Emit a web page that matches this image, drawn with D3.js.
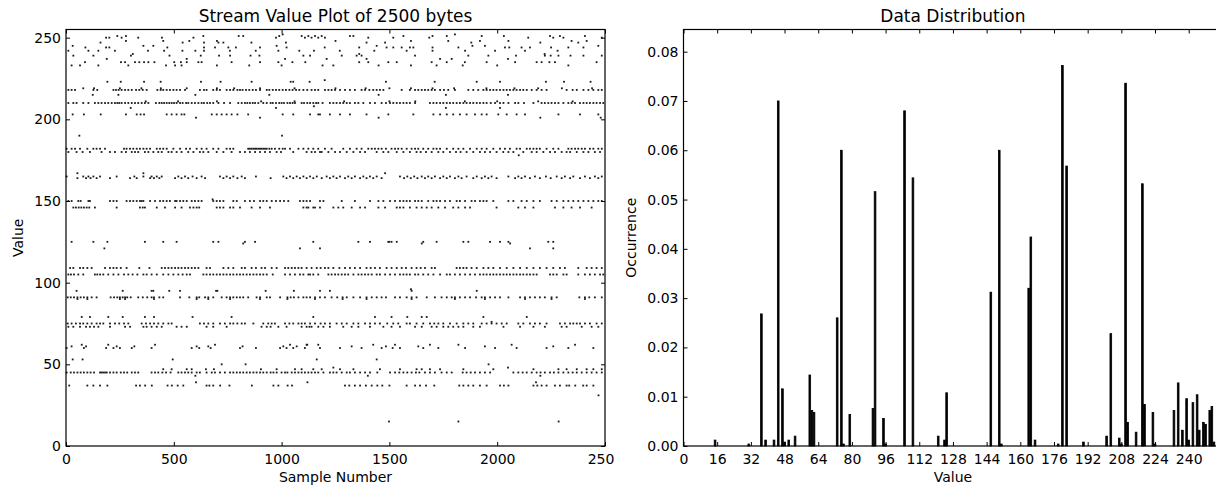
<!DOCTYPE html>
<html>
  <head>
    <style media="screen">
      body { margin: 0; background: #fff; }
      svg { font-family: "DejaVu Sans", sans-serif; }
      .tick text { font-size: 14px; fill: #000; }
    </style>
  </head>
  <body>
    <svg></svg>
    <script src="https://d3js.org/d3.v7.min.js"></script>
    <script type="text/javascript">

      // tick labels
      var sampleTicks = [0, 500, 1000, 1500, 2000, 2500];
      var valueTicks = [0, 50, 100, 150, 200, 250];
      var binTicks = [0, 16, 32, 48, 64, 80, 96, 112, 128, 144, 160, 176, 192, 208, 224, 240];
      var occTicks = [0, 0.01, 0.02, 0.03, 0.04, 0.05, 0.06, 0.07, 0.08];

      // stream plot: byte value of each row and the sample numbers where a dot shows
      var rowValues = [15, 31, 37, 39, 43, 45, 47, 48, 50, 53, 60, 61, 62, 73, 75, 76, 79, 90, 91, 95, 96,
        105, 109, 121, 124, 125, 146, 150, 151, 164, 165, 167, 178, 180, 182, 190, 201, 203, 207, 208,
        210, 211, 215, 218, 219, 223, 224, 233, 235, 237, 239, 240, 242, 244, 245, 247, 248, 250, 251, 252];
      var rowSamples = [
        [1498, 1820, 2285],
        [2470],
        [15, 99, 127, 158, 192, 325, 343, 367, 398, 471, 491, 518, 544, 652, 665, 683, 715, 758, 862, 962, 985, 1028, 1048, 1294, 1314, 1340, 1364, 1391, 1418, 1444, 1467, 1500, 1580, 1619, 1642, 1670, 1708, 1824, 1843, 1866, 1889, 1920, 1951, 2013, 2031, 2052, 2168, 2186, 2206, 2229, 2268, 2291, 2322, 2334, 2362, 2399, 2415, 2446],
        [603, 1120, 2180],
        [600, 1400, 2200],
        [3, 22, 37, 53, 68, 83, 99, 114, 130, 158, 165, 173, 181, 189, 204, 220, 235, 254, 269, 284, 305, 320, 335, 397, 413, 428, 447, 464, 485, 521, 536, 552, 567, 583, 606, 621, 652, 676, 691, 714, 737, 761, 776, 792, 807, 822, 838, 853, 869, 884, 900, 915, 931, 949, 962, 977, 1000, 1016, 1027, 1047, 1062, 1078, 1093, 1108, 1124, 1139, 1155, 1170, 1194, 1224, 1240, 1255, 1279, 1302, 1317, 1340, 1364, 1387, 1410, 1444, 1503, 1526, 1546, 1565, 1583, 1603, 1623, 1639, 1665, 1688, 1711, 1742, 1766, 1789, 1840, 1858, 1877, 1897, 1920, 1943, 1967, 2075, 2098, 2118, 2137, 2160, 2183, 2201, 2221, 2245, 2263, 2284, 2307, 2330, 2350, 2369, 2392, 2415, 2438, 2461, 2485],
        [451, 490, 560, 583, 649, 686, 904, 977, 1062, 1147, 1093, 1186, 1271, 1333, 1456, 1549, 1626, 1650, 1688, 1735, 1843, 1982, 2168, 2284, 2322, 2369, 2415, 2446, 2485],
        [1240, 2050],
        [722, 833, 1960],
        [31, 77, 495, 1163, 1441],
        [3, 83, 186, 220, 250, 305, 397, 583, 618, 671, 807, 881, 993, 1023, 1054, 1108, 1178, 1271, 1371, 1464, 1515, 1549, 1657, 1727, 1851, 1990, 2090, 2229, 2330, 2446],
        [26, 93, 235, 317, 606, 660, 819, 1008, 1070, 1325, 1484, 1634, 1943, 2260],
        [73, 196, 413, 691, 1039, 1116, 1119, 1170, 1425, 1526, 1688, 1820, 2067, 2361],
        [11, 34, 65, 93, 111, 130, 150, 204, 274, 297, 359, 374, 397, 421, 444, 513, 536, 560, 652, 683, 745, 907, 931, 949, 985, 1023, 1093, 1129, 1116, 1139, 1170, 1194, 1224, 1286, 1325, 1356, 1410, 1472, 1510, 1549, 1619, 1650, 1696, 1719, 1750, 1773, 1796, 1820, 1843, 1889, 1920, 2029, 2106, 2168, 2221, 2299, 2322, 2392, 2438, 2469],
        [8, 26, 46, 65, 80, 99, 119, 142, 158, 173, 204, 227, 247, 269, 289, 351, 371, 390, 408, 428, 451, 475, 490, 621, 640, 660, 683, 714, 737, 761, 776, 795, 815, 830, 869, 915, 938, 954, 969, 1016, 1036, 1054, 1078, 1093, 1108, 1132, 1155, 1181, 1201, 1224, 1255, 1279, 1302, 1333, 1356, 1387, 1410, 1433, 1456, 1490, 1518, 1541, 1580, 1595, 1626, 1657, 1688, 1708, 1727, 1750, 1781, 1812, 1843, 1866, 1889, 1928, 1951, 1974, 1997, 2021, 2044, 2098, 2121, 2152, 2175, 2198, 2229, 2291, 2314, 2338, 2353, 2369, 2384, 2407, 2430, 2461, 2485],
        [1974],
        [73, 111, 196, 263, 366, 408, 587, 768, 1147, 1433, 1510, 1583, 1650, 1673, 1936, 2137],
        [53, 99, 250, 274, 408, 606, 660, 761, 900, 1027, 1155, 1283, 1394, 1603, 1804, 1943, 2129, 2252, 2407],
        [8, 22, 37, 53, 68, 83, 99, 119, 142, 207, 223, 238, 250, 263, 274, 284, 300, 335, 356, 377, 397, 408, 433, 451, 529, 572, 606, 618, 645, 660, 683, 722, 745, 761, 776, 792, 807, 822, 845, 884, 900, 931, 946, 993, 1027, 1042, 1057, 1078, 1101, 1116, 1132, 1155, 1178, 1201, 1232, 1258, 1283, 1302, 1333, 1364, 1394, 1418, 1441, 1464, 1484, 1526, 1549, 1580, 1603, 1626, 1673, 1711, 1742, 1766, 1789, 1804, 1827, 1851, 1874, 1902, 1928, 1943, 1967, 1990, 2013, 2052, 2106, 2129, 2152, 2175, 2198, 2221, 2252, 2276, 2381, 2407, 2427, 2453, 2485],
        [49, 263, 397, 405, 479, 529, 696, 702, 926, 1057, 1178, 1224, 1603, 1905],
        [1600],
        [11, 23, 37, 57, 80, 134, 145, 158, 173, 196, 220, 243, 269, 289, 309, 331, 359, 374, 397, 421, 451, 475, 498, 521, 541, 560, 575, 637, 652, 668, 683, 699, 714, 730, 745, 761, 776, 792, 807, 822, 838, 853, 869, 884, 900, 915, 931, 959, 1016, 1039, 1062, 1085, 1101, 1124, 1132, 1147, 1170, 1217, 1232, 1248, 1263, 1279, 1294, 1309, 1333, 1356, 1371, 1387, 1402, 1418, 1441, 1456, 1480, 1503, 1526, 1549, 1565, 1580, 1595, 1619, 1634, 1657, 1680, 1704, 1735, 1766, 1781, 1804, 1827, 1851, 1874, 1897, 1920, 1936, 1951, 1967, 1982, 1997, 2013, 2029, 2044, 2059, 2075, 2090, 2106, 2121, 2137, 2152, 2168, 2183, 2245, 2260, 2276, 2307, 2322, 2376, 2407, 2430, 2453, 2477, 2492],
        [19, 34, 65, 80, 99, 119, 181, 204, 220, 235, 254, 281, 340, 387, 444, 459, 475, 490, 506, 521, 536, 552, 567, 583, 598, 614, 652, 668, 730, 753, 776, 815, 830, 861, 881, 907, 923, 954, 977, 1016, 1031, 1047, 1062, 1078, 1093, 1116, 1139, 1163, 1181, 1201, 1217, 1240, 1268, 1294, 1317, 1340, 1364, 1394, 1413, 1433, 1456, 1487, 1510, 1534, 1557, 1577, 1603, 1626, 1645, 1665, 1696, 1711, 1812, 1827, 1843, 1858, 1881, 1905, 1936, 1959, 1982, 2013, 2044, 2075, 2106, 2137, 2168, 2198, 2229, 2260, 2291, 2314, 2376, 2415, 2438, 2461, 2485],
        [178, 1085, 1178, 2152, 2260],
        [822, 1650, 2060],
        [26, 127, 192, 366, 451, 513, 683, 707, 830, 877, 1147, 1356, 1410, 1495, 1500, 1510, 1534, 1657, 1719, 1843, 1866, 1967, 2013, 2052, 2237, 2260],
        [34, 46, 59, 71, 83, 96, 108, 134, 235, 343, 356, 366, 421, 459, 506, 536, 575, 591, 606, 618, 699, 714, 730, 761, 776, 807, 861, 900, 946, 1101, 1116, 1124, 1147, 1155, 1178, 1240, 1263, 1286, 1325, 1364, 1387, 1449, 1480, 1534, 1549, 1565, 1595, 1626, 1650, 1673, 1696, 1727, 1758, 1796, 1820, 1851, 1874, 1997, 2098, 2129, 2168, 2268, 2307, 2345, 2384, 2438],
        [11, 26, 57, 68, 104, 111, 204, 220, 235, 281, 297, 312, 328, 343, 351, 359, 390, 413, 436, 451, 467, 482, 506, 513, 529, 544, 560, 583, 598, 614, 629, 683, 699, 714, 730, 776, 792, 830, 853, 872, 900, 915, 931, 954, 974, 993, 1011, 1031, 1085, 1101, 1116, 1132, 1178, 1194, 1279, 1340, 1410, 1449, 1472, 1503, 1526, 1549, 1565, 1580, 1595, 1619, 1634, 1650, 1680, 1704, 1719, 1735, 1758, 1781, 1812, 1827, 1851, 1881, 1897, 1920, 1936, 1951, 1982, 2052, 2075, 2113, 2137, 2168, 2198, 2252, 2276, 2307, 2330, 2353, 2376, 2400, 2423, 2446, 2469, 2485],
        [680],
        [53, 93, 114, 142, 204, 297, 328, 390, 408, 433, 506, 536, 567, 606, 645, 730, 761, 795, 830, 949, 1023, 1054, 1085, 1116, 1147, 1186, 1224, 1255, 1294, 1325, 1364, 1394, 1425, 1464, 1568, 1599, 1630, 1665, 1696, 1735, 1766, 1804, 1835, 1889, 1928, 1959, 1997, 2083, 2113, 2152, 2198, 2248, 2299, 2338, 2384, 2430, 2469],
        [3, 80, 104, 127, 158, 235, 317, 359, 397, 421, 444, 521, 552, 587, 629, 714, 745, 776, 815, 881, 1008, 1039, 1070, 1101, 1132, 1163, 1209, 1240, 1271, 1309, 1340, 1379, 1410, 1441, 1549, 1583, 1615, 1650, 1680, 1711, 1750, 1781, 1820, 1858, 1905, 1943, 1974, 2052, 2098, 2129, 2175, 2226, 2276, 2314, 2353, 2407, 2453, 2485],
        [53, 359, 1480],
        [2100],
        [11, 49, 77, 111, 165, 204, 227, 258, 278, 305, 320, 335, 366, 382, 405, 428, 444, 475, 490, 513, 536, 567, 591, 621, 637, 660, 699, 730, 768, 807, 830, 853, 877, 900, 923, 946, 977, 997, 1054, 1116, 1139, 1155, 1178, 1186, 1217, 1248, 1271, 1302, 1333, 1364, 1387, 1441, 1472, 1495, 1534, 1565, 1595, 1626, 1645, 1670, 1696, 1727, 1750, 1781, 1809, 1830, 1858, 1889, 1920, 1943, 1967, 1997, 2028, 2052, 2075, 2121, 2160, 2183, 2214, 2245, 2268, 2299, 2322, 2338, 2369, 2400, 2423, 2453, 2477],
        [3, 26, 42, 65, 99, 127, 142, 158, 181, 269, 281, 297, 312, 328, 343, 359, 374, 390, 421, 436, 451, 467, 498, 529, 557, 575, 606, 629, 652, 683, 707, 745, 761, 776, 845, 853, 861, 869, 877, 884, 892, 900, 907, 915, 923, 931, 943, 954, 969, 989, 1005, 1016, 1039, 1078, 1101, 1124, 1147, 1170, 1201, 1232, 1286, 1317, 1348, 1371, 1402, 1418, 1433, 1449, 1464, 1484, 1510, 1526, 1541, 1557, 1580, 1603, 1619, 1634, 1657, 1680, 1704, 1719, 1735, 1766, 1796, 1820, 1843, 1874, 1905, 1928, 1951, 1982, 2013, 2036, 2059, 2090, 2106, 2137, 2152, 2168, 2183, 2198, 2229, 2260, 2284, 2330, 2345, 2361, 2376, 2392, 2407, 2430, 2446, 2469, 2485],
        [62, 1002],
        [603, 900, 1450, 2200, 2480],
        [31, 83, 161, 278, 328, 346, 362, 467, 490, 513, 536, 549, 676, 699, 722, 745, 768, 795, 845, 1005, 1054, 1132, 1170, 1178, 1224, 1271, 1317, 1394, 1495, 1611, 1704, 1735, 1766, 1796, 1827, 1858, 1897, 1928, 1951, 2005, 2044, 2090, 2129, 2284, 2384, 2469],
        [300, 974, 1762, 2013],
        [1150],
        [11, 34, 49, 80, 104, 134, 150, 165, 181, 196, 212, 227, 238, 247, 258, 274, 289, 305, 320, 335, 351, 366, 382, 417, 433, 444, 455, 467, 479, 490, 501, 513, 529, 541, 557, 567, 583, 598, 614, 629, 640, 655, 668, 683, 707, 733, 761, 799, 815, 830, 841, 853, 866, 877, 892, 915, 931, 949, 959, 974, 989, 1000, 1011, 1027, 1039, 1051, 1062, 1093, 1104, 1119, 1132, 1147, 1160, 1170, 1190, 1224, 1240, 1255, 1271, 1286, 1302, 1317, 1340, 1356, 1379, 1410, 1433, 1464, 1484, 1503, 1518, 1534, 1549, 1565, 1580, 1595, 1619, 1688, 1704, 1719, 1735, 1750, 1766, 1781, 1796, 1812, 1827, 1843, 1858, 1874, 1889, 1905, 1920, 1936, 1951, 1970, 1990, 2013, 2029, 2052, 2083, 2098, 2124, 2168, 2206, 2221, 2237, 2252, 2268, 2284, 2307, 2330, 2345, 2361, 2384, 2400, 2415, 2430, 2446, 2461, 2477, 2492],
        [370, 520, 700, 905, 1060, 1290, 1500, 1620, 1850, 2000, 2190, 2350],
        [124, 243, 600, 943, 1450, 1762, 2050],
        [11, 26, 42, 127, 145, 220, 232, 244, 258, 274, 289, 305, 325, 340, 356, 374, 424, 439, 451, 467, 482, 498, 513, 529, 552, 621, 640, 652, 683, 699, 714, 745, 761, 776, 795, 807, 819, 835, 850, 866, 881, 900, 931, 943, 959, 974, 989, 1005, 1020, 1036, 1051, 1067, 1082, 1101, 1119, 1139, 1155, 1170, 1201, 1217, 1232, 1248, 1271, 1294, 1317, 1340, 1371, 1387, 1407, 1425, 1441, 1456, 1472, 1557, 1595, 1619, 1634, 1650, 1665, 1680, 1696, 1711, 1735, 1753, 1773, 1804, 1866, 1889, 1912, 1936, 1951, 1967, 1982, 1997, 2013, 2029, 2044, 2059, 2075, 2090, 2106, 2121, 2137, 2160, 2183, 2206, 2229, 2322, 2350, 2369, 2400, 2423, 2446, 2469, 2485],
        [80, 130, 250, 350, 440, 560, 700, 780, 900, 1060, 1250, 1390, 1500, 1600, 1700, 1800, 1950, 2080, 2190, 2300, 2440],
        [192, 254, 362, 439, 626, 717, 861, 1042, 1054, 1130, 1484, 1710, 1905, 2013, 2226, 2310, 2433],
        [1200],
        [26, 65, 150, 289, 464, 506, 536, 700, 850, 1000, 1190, 1240, 1450, 1600, 1719, 1840, 2000, 2330],
        [88, 255, 274, 320, 340, 362, 382, 410, 502, 533, 560, 614, 629, 768, 900, 985, 1050, 1110, 1360, 1402, 1495, 1534, 1696, 1766, 1850, 1951, 2083, 2183, 2206, 2242, 2268, 2461],
        [189, 560, 1016, 1209, 1394, 1735, 1789, 2050],
        [34, 127, 301, 480, 625, 710, 761, 856, 897, 1101, 1132, 1279, 1348, 1371, 1619, 1866, 1959, 2087, 2221, 2248, 2284, 2340, 2400, 2485],
        [310, 1360, 2220],
        [11, 104, 150, 227, 380, 455, 540, 600, 640, 760, 880, 985, 1082, 1150, 1270, 1430, 1580, 1700, 1851, 1990, 2129, 2280],
        [90, 186, 201, 470, 640, 691, 753, 788, 900, 1023, 1200, 1360, 1487, 1518, 1557, 1595, 1611, 1700, 1820, 2036, 2056, 2113, 2152, 2250, 2330, 2400],
        [31, 359, 405, 977, 1441, 1885, 1943, 2469],
        [160, 541, 640, 707, 730, 860, 1020, 1394, 1480, 1880, 2200, 2376],
        [278, 451, 572, 700, 1250, 1600, 1773, 1920, 2052, 2345, 2415],
        [186, 201, 258, 335, 445, 591, 974, 1108, 1139, 1170, 1201, 1402, 1518, 1685, 2144, 2260, 2307, 2485],
        [238, 278, 637, 801, 822, 989, 1093, 1124, 1155, 1186, 1317, 1333, 1565, 1700, 1766, 1928, 2031, 2245, 2291, 2407],
        [1005, 1804]
      ];

      // data distribution: byte value and its occurrence (share of 2500 bytes)
      var distValues = [15, 31, 37, 39, 43, 45, 47, 48, 50, 53, 60, 61, 62, 73, 75, 76, 79, 90, 91, 95, 96,
        105, 109, 121, 124, 125, 146, 150, 151, 164, 165, 167, 178, 180, 182, 190, 201, 203, 207, 208,
        210, 211, 215, 218, 219, 223, 224, 233, 235, 237, 239, 240, 242, 244, 245, 247, 248, 250, 251, 252];
      var distOccurrence = [0.0012, 0.0004, 0.0268, 0.0012, 0.0012, 0.0700, 0.0116, 0.0008, 0.0012, 0.0020,
        0.0144, 0.0072, 0.0068, 0.0260, 0.0600, 0.0004, 0.0064, 0.0076, 0.0516, 0.0056, 0.0004,
        0.0680, 0.0544, 0.0020, 0.0012, 0.0108, 0.0312, 0.0600, 0.0004, 0.0320, 0.0424, 0.0012, 0.0004,
        0.0772, 0.0568, 0.0008, 0.0020, 0.0228, 0.0016, 0.0004, 0.0736, 0.0048, 0.0028, 0.0532, 0.0084,
        0.0068, 0.0004, 0.0072, 0.0128, 0.0032, 0.0096, 0.0012, 0.0088, 0.0104, 0.0032, 0.0048, 0.0044,
        0.0072, 0.0080, 0.0008];

      var svgWidth = 1216, svgHeight = 491;
      var plotTop = 29.5, plotBottom = 446;

      var svg = d3.select("svg")
        .attr("width", svgWidth)
        .attr("height", svgHeight)

      svg.append("defs").append("clipPath")
        .attr("id", "leftcrop")
        .append("rect")
        .attr("x", 0).attr("y", 0)
        .attr("width", 615).attr("height", svgHeight)

      // ---------- left: stream value plot ----------
      var left = svg.append("g").attr("clip-path", "url(#leftcrop)")

      var sample_scale = d3.scaleLinear().domain([0, 2500]).range([66, 605])
      var value_scale = d3.scaleLinear().domain([0, 255]).range([plotBottom, plotTop])

      var points = []
      rowValues.forEach((v, i) => rowSamples[i].forEach(s => points.push({ s: s, v: v })))

      left.append("g")
        .selectAll("rect")
        .data(points)
        .enter().append("rect")
        .attr("x", d => sample_scale(d.s) - 0.9)
        .attr("y", d => value_scale(d.v) - 0.9)
        .attr("width", 1.8)
        .attr("height", 1.8)
        .attr("fill", "#1a1a1a")

      drawFrame(left, sample_scale, value_scale, sampleTicks, valueTicks, d3.format("d"))

      left.append("text")
        .text("Stream Value Plot of 2500 bytes")
        .attr("x", (sample_scale(0) + sample_scale(2500)) / 2)
        .attr("y", 22)
        .attr("text-anchor", "middle")
        .attr("font-size", "17px")

      left.append("text")
        .text("Sample Number")
        .attr("x", (sample_scale(0) + sample_scale(2500)) / 2)
        .attr("y", 482)
        .attr("text-anchor", "middle")
        .attr("font-size", "14px")

      left.append("text")
        .text("Value")
        .attr("transform", "translate(23," + (plotTop + plotBottom) / 2 + ") rotate(-90)")
        .attr("text-anchor", "middle")
        .attr("font-size", "14px")

      // ---------- right: data distribution ----------
      var right = svg.append("g")

      var bin_scale = d3.scaleLinear().domain([0, 256]).range([683.5, 683.5 + 256 * 2.105])
      var occ_scale = d3.scaleLinear().domain([0, 0.0845]).range([plotBottom, plotTop])

      right.append("g")
        .selectAll("rect")
        .data(distValues)
        .enter().append("rect")
        .attr("x", d => bin_scale(d - 0.4))
        .attr("y", (d, i) => occ_scale(distOccurrence[i]))
        .attr("width", bin_scale(0.8) - bin_scale(0))
        .attr("height", (d, i) => plotBottom - occ_scale(distOccurrence[i]))
        .attr("fill", "#000")
        .attr("stroke", "#000")
        .attr("stroke-width", 0.8)

      drawFrame(right, bin_scale, occ_scale, binTicks, occTicks, d3.format(".2f"))

      right.append("text")
        .text("Data Distribution")
        .attr("x", (bin_scale(0) + bin_scale(256)) / 2)
        .attr("y", 22)
        .attr("text-anchor", "middle")
        .attr("font-size", "17px")

      right.append("text")
        .text("Value")
        .attr("x", (bin_scale(0) + bin_scale(256)) / 2)
        .attr("y", 482)
        .attr("text-anchor", "middle")
        .attr("font-size", "14px")

      right.append("text")
        .text("Occurrence")
        .attr("transform", "translate(636," + (plotTop + plotBottom) / 2 + ") rotate(-90)")
        .attr("text-anchor", "middle")
        .attr("font-size", "14px")

      // frame with inward ticks on all four sides, labels left and bottom
      function drawFrame(g, xs, ys, xt, yt, yfmt) {
        var x0 = xs.range()[0], x1 = xs.range()[1]

        g.append("g")
          .attr("transform", "translate(0," + plotBottom + ")")
          .call(d3.axisBottom(xs).tickValues(xt).tickSize(-4).tickPadding(8).tickFormat(d3.format("d")))
          .call(a => a.select(".domain").remove())

        g.append("g")
          .attr("transform", "translate(0," + plotTop + ")")
          .call(d3.axisTop(xs).tickValues(xt).tickSize(-4).tickFormat(""))
          .call(a => a.select(".domain").remove())

        g.append("g")
          .attr("transform", "translate(" + x0 + ",0)")
          .call(d3.axisLeft(ys).tickValues(yt).tickSize(-4).tickPadding(5).tickFormat(yfmt))
          .call(a => a.select(".domain").remove())

        g.append("g")
          .attr("transform", "translate(" + x1 + ",0)")
          .call(d3.axisRight(ys).tickValues(yt).tickSize(-4).tickFormat(""))
          .call(a => a.select(".domain").remove())

        g.selectAll(".tick line").attr("stroke", "#000")
        g.selectAll(".tick text").attr("font-family", "DejaVu Sans").attr("font-size", "14px")

        g.append("rect")
          .attr("x", x0)
          .attr("y", plotTop)
          .attr("width", x1 - x0)
          .attr("height", plotBottom - plotTop)
          .attr("fill", "none")
          .attr("stroke", "#000")
          .attr("stroke-width", 1.2)
      }
    </script>
  </body>
</html>
